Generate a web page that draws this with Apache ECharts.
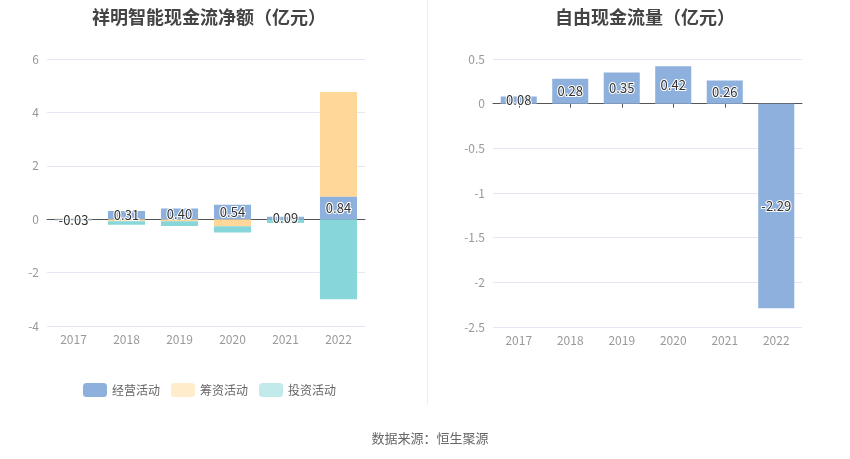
<!DOCTYPE html>
<html>
<head>
<meta charset="utf-8">
<script src="https://cdn.jsdelivr.net/npm/echarts@6/dist/echarts.min.js"></script>
<style>
  html, body { margin: 0; padding: 0; background: #fff; }
  #main { width: 850px; height: 459px; }
</style>
</head>
<body>
<div id="main"></div>
<script>
// 数据
const years = ["2017", "2018", "2019", "2020", "2021", "2022"];
const operating = [-0.03, 0.31, 0.40, 0.54, 0.09, 0.84];
const financing = [0.03, -0.08, -0.08, -0.26, 0, 3.92];
const investing = [-0.02, -0.13, -0.17, -0.24, -0.14, -3.0];
const freeCash = [0.08, 0.28, 0.35, 0.42, 0.26, -2.29];

const chart = echarts.init(document.getElementById("main"));

const labelStyle = {
  show: true,
  position: "inside",
  color: "#333",
  fontSize: 13,
  textBorderColor: "#fff",
  textBorderWidth: 2,
  formatter: p => p.value.toFixed(2)
};
const axisText = { color: "#999", fontSize: 12 };
const gridLine = { show: true, lineStyle: { color: "#e4e8f2" } };

const option = {
  animation: false,
  textStyle: { fontFamily: "Noto Sans CJK SC" },
  title: [
    {
      text: "祥明智能现金流净额（亿元）",
      left: 204, top: 3, textAlign: "center",
      textStyle: { fontSize: 18, fontWeight: "bold", color: "#444" }
    },
    {
      text: "自由现金流量（亿元）",
      left: 640, top: 3, textAlign: "center",
      textStyle: { fontSize: 18, fontWeight: "bold", color: "#444" }
    },
    {
      text: "数据来源：恒生聚源",
      left: 425, top: 427, textAlign: "center",
      textStyle: { fontSize: 13, fontWeight: "normal", color: "#666" }
    }
  ],
  graphic: [
    {
      type: "line",
      shape: { x1: 427.5, y1: 0, x2: 427.5, y2: 405 },
      style: { stroke: "#eeeeee", lineWidth: 1 }
    }
  ],
  legend: {
    left: 78, top: 378,
    itemWidth: 24, itemHeight: 14, itemGap: 11,
    icon: "roundRect",
    textStyle: { color: "#666", fontSize: 12 },
    data: [
      { name: "经营活动", itemStyle: { color: "#8eb0dc" } },
      { name: "筹资活动", itemStyle: { color: "#ffecca" } },
      { name: "投资活动", itemStyle: { color: "#c3eaea" } }
    ]
  },
  grid: [
    { left: 47, right: 485, top: 59, bottom: 133 },
    { left: 493, right: 48, top: 59, bottom: 132 }
  ],
  xAxis: [
    {
      gridIndex: 0, type: "category", data: years, position: "bottom",
      axisLine: { show: false, onZero: false }, axisTick: { show: false },
      axisLabel: Object.assign({ margin: 7 }, axisText)
    },
    {
      gridIndex: 0, type: "category", data: years, position: "bottom",
      axisLine: { show: true, onZero: true, lineStyle: { color: "#555" } },
      axisTick: { show: false }, axisLabel: { show: false }
    },
    {
      gridIndex: 1, type: "category", data: years, position: "bottom",
      axisLine: { show: false, onZero: false }, axisTick: { show: false },
      axisLabel: Object.assign({ margin: 7 }, axisText)
    },
    {
      gridIndex: 1, type: "category", data: years, position: "bottom",
      axisLine: { show: true, onZero: true, lineStyle: { color: "#555" } },
      axisTick: { show: true, alignWithLabel: true, length: 4, lineStyle: { color: "#555" } },
      axisLabel: { show: false }
    }
  ],
  yAxis: [
    {
      gridIndex: 0, type: "value", min: -4, max: 6, interval: 2,
      axisLine: { show: false }, axisTick: { show: false },
      axisLabel: axisText, splitLine: gridLine
    },
    {
      gridIndex: 1, type: "value", min: -2.5, max: 0.5, interval: 0.5,
      axisLine: { show: false }, axisTick: { show: false },
      axisLabel: axisText, splitLine: gridLine
    }
  ],
  series: [
    {
      name: "经营活动", type: "bar", stack: "cash", xAxisIndex: 0, yAxisIndex: 0,
      barWidth: "70%", data: operating,
      itemStyle: { color: "#8eb0dc" }, label: labelStyle, z: 3
    },
    {
      name: "筹资活动", type: "bar", stack: "cash", xAxisIndex: 0, yAxisIndex: 0,
      barWidth: "70%", data: financing,
      itemStyle: { color: "#ffd899" }
    },
    {
      name: "投资活动", type: "bar", stack: "cash", xAxisIndex: 0, yAxisIndex: 0,
      barWidth: "70%", data: investing,
      itemStyle: { color: "#87d6d9" }
    },
    {
      name: "自由现金流量", type: "bar", xAxisIndex: 2, yAxisIndex: 1,
      barWidth: "70%", data: freeCash,
      itemStyle: { color: "#8eb0dc" }, label: labelStyle
    }
  ]
};

chart.setOption(option);
</script>
</body>
</html>
